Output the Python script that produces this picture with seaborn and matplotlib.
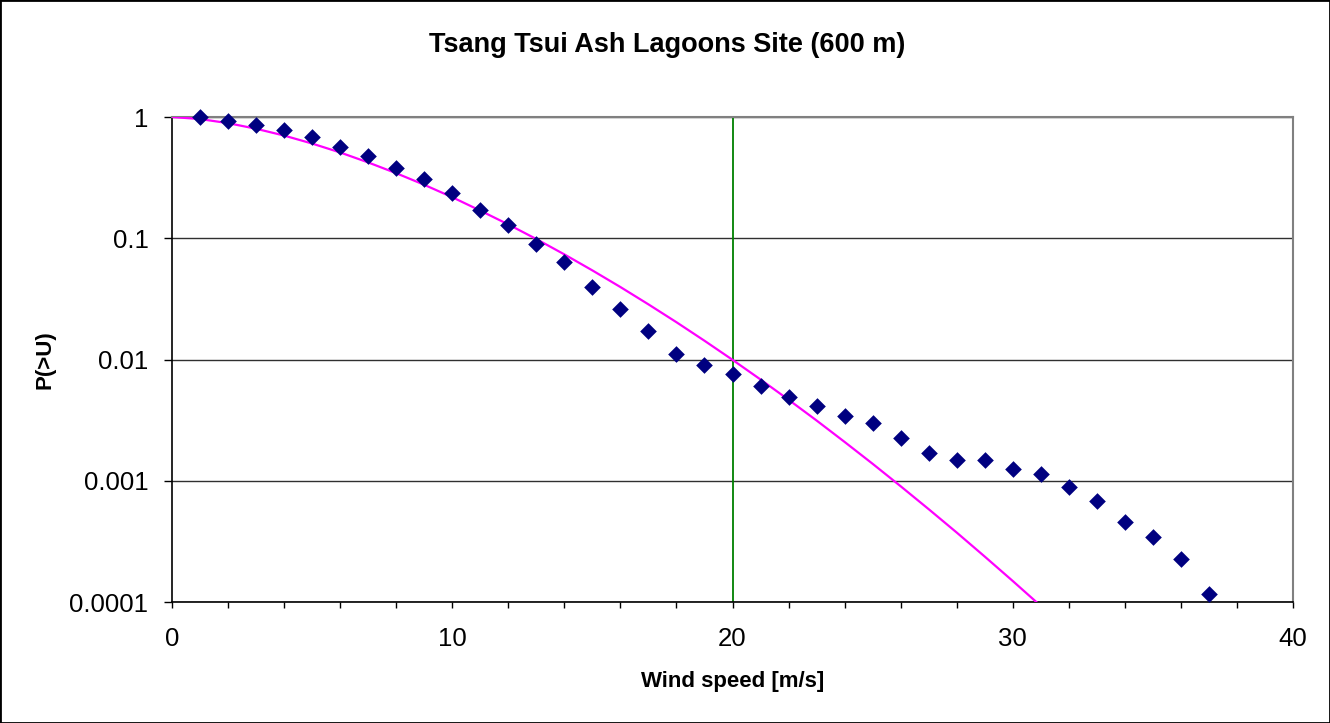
import matplotlib
matplotlib.use("Agg")
import matplotlib.pyplot as plt
from matplotlib.patches import Rectangle
from matplotlib.ticker import FixedLocator, MultipleLocator, NullLocator, FixedFormatter
import seaborn as sns

# Observed exceedance probabilities of hourly wind speed
speed_obs = list(range(1, 38))
p_obs = [0.995, 0.93, 0.864, 0.776, 0.680, 0.566, 0.474, 0.382, 0.310, 0.235,
         0.170, 0.129, 0.0902, 0.0633, 0.0396, 0.0261, 0.0171, 0.0112, 0.0090, 0.0076,
         0.00608, 0.00493, 0.00413, 0.00344, 0.00301, 0.00226, 0.00170, 0.00148, 0.00148, 0.00124,
         0.00114, 0.00089, 0.00068, 0.00046, 0.000346, 0.000226, 0.000116]

# Fitted distribution curve
speed_fit = list(range(0, 32))
p_fit = [1.0, 0.962, 0.890, 0.800, 0.703, 0.604, 0.510, 0.422, 0.344, 0.276,
         0.218, 0.169, 0.130, 0.0985, 0.0736, 0.0543, 0.0396, 0.0285, 0.0203, 0.01428,
         0.00994, 0.00684, 0.00466, 0.00314, 0.00209, 0.00138, 0.000901, 0.000583, 0.000374, 0.000237,
         0.000149, 0.0000928]

design_speed = 20
x_ticks = [0, 10, 20, 30, 40]
y_ticks = [0.0001, 0.001, 0.01, 0.1, 1]
y_tick_labels = ["0.0001", "0.001", "0.01", "0.1", "1"]

title = "Tsang Tsui Ash Lagoons Site (600 m)"
x_label = "Wind speed [m/s]"
y_label = "P(>U)"

sns.set_theme(style="white")
plt.rcParams["font.family"] = ["Liberation Sans", "DejaVu Sans"]
plt.rcParams.update({"text.color": "black", "axes.labelcolor": "black",
                     "xtick.color": "black", "ytick.color": "black"})

W, H = 1330, 723
fig = plt.figure(figsize=(W / 100, H / 100), dpi=100)
fig.patch.set_facecolor("white")
ax = fig.add_axes([172 / W, 1 - 602 / H, 1121 / W, 485 / H])
ax.set_yscale("log")

ax.axvline(design_speed, color="#008000", lw=1.3, zorder=2)
sns.lineplot(x=speed_fit, y=p_fit, color="#FF00FF", lw=1.6, ax=ax, zorder=3)
sns.scatterplot(x=speed_obs, y=p_obs, marker="D", s=72, color="#000080",
                edgecolor="#000080", linewidth=0, ax=ax, zorder=4, clip_on=False)

ax.set_xlim(0, 40)
ax.set_ylim(1e-4, 1)

ax.xaxis.set_major_locator(FixedLocator(x_ticks))
ax.xaxis.set_minor_locator(MultipleLocator(2))
ax.yaxis.set_major_locator(FixedLocator(y_ticks))
ax.yaxis.set_major_formatter(FixedFormatter(y_tick_labels))
ax.yaxis.set_minor_locator(NullLocator())

ax.grid(axis="y", which="major", color="#303030", lw=1.0)
ax.grid(axis="x", visible=False)

ax.tick_params(axis="y", which="major", direction="out", length=6, width=1,
               color="black", labelcolor="black", labelsize=18.5, pad=11, left=True)
ax.tick_params(axis="x", which="both", direction="out", length=4, width=1,
               color="black", bottom=True)
ax.tick_params(axis="x", which="major", labelsize=18.5, labelcolor="black", pad=14)

for side in ("left", "bottom"):
    ax.spines[side].set_color("black")
    ax.spines[side].set_linewidth(1.2)
for side in ("top", "right"):
    ax.spines[side].set_color("#808080")
    ax.spines[side].set_linewidth(1.5)

ax.set_xlabel(x_label, fontsize=16, fontweight="bold", color="black")
ax.set_ylabel(y_label, fontsize=16, fontweight="bold", color="black")
ax.xaxis.set_label_coords(0.5, (602 - 682) / 485)
ax.xaxis.label.set_va("center")
ax.yaxis.set_label_coords((45 - 172) / 1121, 0.5)
ax.yaxis.label.set_va("center")

fig.text(0.502, 1 - 45 / H, title, ha="center", va="center",
         fontsize=19.5, fontweight="bold", color="black")

fig.patches.append(Rectangle((0, 0), 1, 1, transform=fig.transFigure,
                             fill=False, edgecolor="black", lw=2))

fig.savefig("out.png", dpi=100)
